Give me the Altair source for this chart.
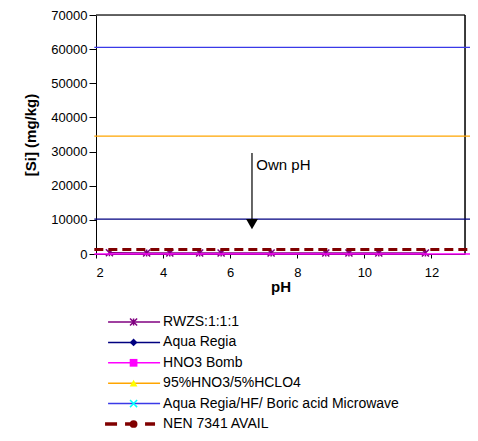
import altair as alt
import pandas as pd

# ---- data ----
series_names = ["RWZS:1:1:1", "Aqua Regia", "HNO3 Bomb", "95%HNO3/5%HCLO4",
                "Aqua Regia/HF/ Boric acid Microwave", "NEN 7341 AVAIL"]
series_colors = ["#800080", "#000080", "#FF00FF", "#FFA500", "#3a3ae8", "#800000"]

rwzs_ph = [2.40, 3.51, 4.20, 5.09, 5.73, 7.22, 8.85, 9.54, 10.43, 11.82]
rwzs_si = [350, 300, 320, 280, 300, 300, 280, 300, 290, 310]

level_names = ["Aqua Regia/HF/ Boric acid Microwave", "95%HNO3/5%HCLO4",
               "Aqua Regia", "HNO3 Bomb"]
level_values = [60500, 34500, 10200, 0]
nen_value = 1300
level_span = [1.95, 13.2]

arrow_ph = 6.65
arrow_top = 29600
arrow_line_end = 10000
arrow_head = 8750
label_ph = 6.78
label_si = 26000
label_text = "Own pH"

x_min, x_max = 2, 13
y_min, y_max = 0, 70000

FONT = "Liberation Sans"

x_scale = alt.Scale(domain=[x_min, x_max], nice=False, zero=False)
y_scale = alt.Scale(domain=[y_min, y_max], nice=False)
color_scale = alt.Scale(domain=series_names, range=series_colors)

x_ticks = [2 + 0.5 * i for i in range(23)]

x_enc = alt.X("x:Q", scale=x_scale, title="pH",
              axis=alt.Axis(values=x_ticks, labelExpr="datum.value % 2 == 0 ? datum.label : ''",
                            grid=False, tickSize=4, domainColor="black", tickColor="black",
                            labelColor="black", labelFontSize=13, labelFont=FONT,
                            titleFont=FONT, titleFontSize=15, titleFontWeight="bold",
                            titleColor="black", titlePadding=0, labelPadding=8))
y_enc = alt.Y("y:Q", scale=y_scale, title="[Si] (mg/kg)",
              axis=alt.Axis(values=[0, 10000, 20000, 30000, 40000, 50000, 60000, 70000],
                            format="d", grid=False, tickSize=7, domainColor="black",
                            tickColor="black", labelColor="black", labelFontSize=13,
                            labelFont=FONT, titleFont=FONT, titleFontSize=15,
                            titleFontWeight="bold", titleColor="black", titlePadding=12))

# level lines
lvl_rows = []
for n, v in zip(level_names, level_values):
    for xv in level_span:
        lvl_rows.append({"x": xv, "y": v, "s": n})
lvl_df = pd.DataFrame(lvl_rows)

nen_df = pd.DataFrame({"x": level_span, "y": [nen_value, nen_value], "s": "NEN 7341 AVAIL"})
rw_df = pd.DataFrame({"x": rwzs_ph, "y": rwzs_si, "s": "RWZS:1:1:1"})

base_color = alt.Color("s:N", scale=color_scale, legend=None)

# frame (top and right border)
frame_df = pd.DataFrame({"x": [x_min], "x2": [x_max], "y": [y_max], "y2": [y_min]})
frame_top = alt.Chart(frame_df).mark_rule(color="#333333", strokeWidth=1.3).encode(
    x="x:Q", x2="x2:Q", y="y:Q")
frame_right = alt.Chart(frame_df).mark_rule(color="black", strokeWidth=1.5).encode(
    x="x2:Q", y="y:Q", y2="y2:Q")

rw_line = alt.Chart(rw_df).mark_line(strokeWidth=1.5, clip=False).encode(x=x_enc, y=y_enc, color=base_color)
rw_pts = alt.Chart(rw_df).mark_point(shape="M-1,-1L1,1M-1,1L1,-1M0,-1L0,1", size=50,
                                     strokeWidth=1.5, filled=False, opacity=1).encode(
    x="x:Q", y="y:Q", color=base_color)
lvl_lines = alt.Chart(lvl_df).mark_line(strokeWidth=1.3, clip=False).encode(
    x="x:Q", y="y:Q", color=base_color, detail="s:N")
nen_line = alt.Chart(nen_df).mark_line(strokeWidth=3, strokeDash=[9, 5], clip=False).encode(
    x="x:Q", y="y:Q", color=base_color)

arrow_df = pd.DataFrame({"x": [arrow_ph], "y": [arrow_top], "y2": [arrow_line_end], "yh": [arrow_head]})
arrow_line = alt.Chart(arrow_df).mark_rule(color="black", strokeWidth=1.2).encode(
    x="x:Q", y="y:Q", y2="y2:Q")
arrow_tip = alt.Chart(arrow_df).mark_point(shape="triangle-down", filled=True, color="black",
                                           size=140, opacity=1).encode(x="x:Q", y="yh:Q")
label_df = pd.DataFrame({"x": [label_ph], "y": [label_si], "t": [label_text]})
label = alt.Chart(label_df).mark_text(align="left", baseline="middle", font=FONT, fontSize=15,
                                      color="black").encode(x="x:Q", y="y:Q", text="t:N")

# ---- legend (drawn below plot with its own row scale) ----
leg_shapes = ["M-1,-1L1,1M-1,1L1,-1M0,-1L0,1", "diamond", "square", "triangle-up",
              "M-1,-1L1,1M-1,1L1,-1", "circle"]
leg_marker_colors = ["#800080", "#000080", "#FF00FF", "#FFFF00", "#00FFFF", "#800000"]
leg_filled = [False, True, True, True, False, True]
leg_df = pd.DataFrame({
    "s": series_names,
    "row": list(range(6)),
    "x1": [2.36, 2.36, 2.36, 2.36, 2.36, 2.27],
    "x2": [3.91, 3.91, 3.91, 3.91, 3.91, 3.76],
    "xm": [3.12] * 6,
    "xt": [4.0] * 6,
    "shape": leg_shapes,
    "mc": leg_marker_colors,
    "filled": leg_filled,
})
row_scale = alt.Scale(domain=[0, 5], range=[307, 409])
leg_y = alt.Y("row:Q", scale=row_scale, axis=None)

leg_lines = alt.Chart(leg_df).transform_filter("datum.row < 5").mark_rule(strokeWidth=1.5).encode(
    x="x1:Q", x2="x2:Q", y=leg_y, color=base_color)
leg_nen = alt.Chart(leg_df).transform_filter("datum.row == 5").mark_rule(
    strokeWidth=3.5, strokeDash=[12, 8]).encode(x="x1:Q", x2="x2:Q", y=leg_y, color=base_color)
leg_fill = alt.Chart(leg_df).transform_filter("datum.filled").mark_point(
    filled=True, size=60, opacity=1).encode(
    x="xm:Q", y=leg_y, shape=alt.Shape("shape:N", scale=None),
    color=alt.Color("mc:N", scale=None))
leg_stroke = alt.Chart(leg_df).transform_filter("!datum.filled").mark_point(
    filled=False, size=50, strokeWidth=1.5, opacity=1).encode(
    x="xm:Q", y=leg_y, shape=alt.Shape("shape:N", scale=None),
    color=alt.Color("mc:N", scale=None))
leg_text = alt.Chart(leg_df).mark_text(align="left", baseline="middle", font=FONT, fontSize=14,
                                       color="black").encode(x="xt:Q", y=leg_y, text="s:N")

legend_layer = alt.layer(leg_lines, leg_nen, leg_fill, leg_stroke, leg_text)

main = alt.layer(frame_top, frame_right, rw_line, rw_pts, lvl_lines, nen_line,
                 arrow_line, arrow_tip, label).encode(x=x_enc, y=y_enc)

chart = alt.layer(main, legend_layer).resolve_scale(y="independent").properties(
    width=369, height=239,
    autosize=alt.AutoSizeParams(type="none"),
    padding={"left": 88, "top": 7, "right": 5, "bottom": 179},
).configure_view(stroke=None).configure(background="white")

chart.save("out.html", embed_options={"renderer": "svg", "actions": False})
